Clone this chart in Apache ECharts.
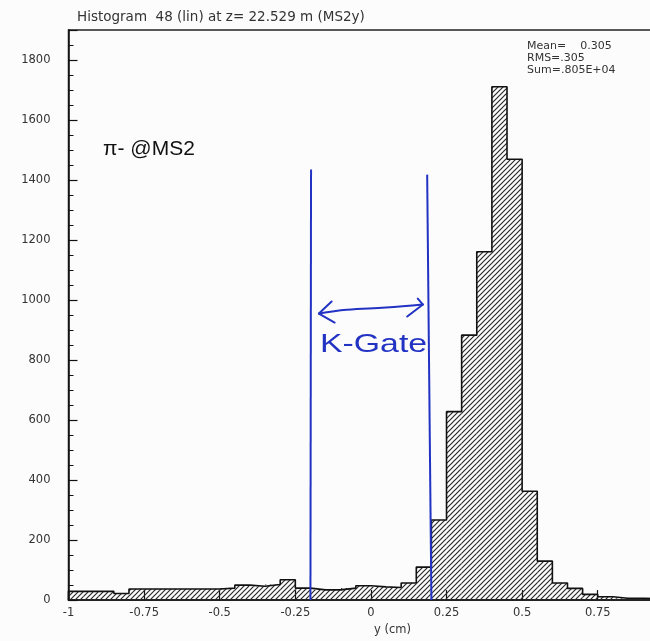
<!DOCTYPE html>
<html>
<head>
<meta charset="utf-8">
<script src="https://cdn.jsdelivr.net/npm/echarts@6/dist/echarts.min.js"></script>
<style>
  html, body { margin: 0; padding: 0; background: #fcfcfc; overflow: hidden; width: 650px; height: 641px; }
  #chart { width: 680px; height: 641px; }
</style>
</head>
<body>
<div id="chart"></div>
<script>
// Histogram 48: y distribution at MS2, 40 bins of 0.05 cm from -1 to 1
const binStart = -1;
const binWidth = 0.05;
const counts = [
  29, 29, 29, 22, 37, 37, 37, 37, 37, 37,
  40, 50, 46, 52, 68, 40, 34, 34, 40, 48,
  44, 42, 57, 110, 267, 628, 883, 1161, 1711, 1469,
  363, 130, 57, 39, 19, 11, 6, 6, 5, 5
];
const titleText = 'Histogram  48 (lin) at z= 22.529 m (MS2y)';
const statLines = ['Mean=    0.305', 'RMS=.305', 'Sum=.805E+04'];
const gateEdges = [-0.2, 0.2];

// diagonal hatching tile
function hatchTile() {
  const s = 5;
  const c = document.createElement('canvas');
  c.width = s; c.height = s;
  const g = c.getContext('2d');
  g.strokeStyle = '#2a2a2a';
  g.lineWidth = 1.2;
  g.beginPath();
  g.moveTo(0, s); g.lineTo(s, 0);
  g.moveTo(-1, 1); g.lineTo(1, -1);
  g.moveTo(s - 1, s + 1); g.lineTo(s + 1, s - 1);
  g.stroke();
  return c;
}
const hatch = { image: hatchTile(), repeat: 'repeat' };

// bins as [lo, hi, count]
const bins = counts.map((v, k) => [binStart + k * binWidth, binStart + (k + 1) * binWidth, v]);

// outline of the histogram as a step contour
const contour = [[binStart, 0]];
bins.forEach(b => { contour.push([b[0], b[2]]); contour.push([b[1], b[2]]); });
contour.push([bins[bins.length - 1][1], 0]);

const blue = '#2233c4';
const font = 'DejaVu Sans';

const chart = echarts.init(document.getElementById('chart'), null, { renderer: 'canvas' });
chart.setOption({
  animation: false,
  backgroundColor: '#fcfcfc',
  title: {
    text: titleText,
    left: 72, top: 5,
    textStyle: { fontFamily: font, fontSize: 13.5, fontWeight: 'normal', color: '#333' }
  },
  grid: {
    left: 68.5, right: 5.5, top: 30, bottom: 40,
    show: true, borderColor: '#222', borderWidth: 1.5, backgroundColor: 'transparent'
  },
  xAxis: {
    type: 'value', min: -1, max: 1, interval: 0.25,
    name: 'y (cm)', nameLocation: 'middle', nameGap: 20,
    nameTextStyle: { fontFamily: font, fontSize: 11.5, color: '#333', padding: [0, 0, 0, 43] },
    axisLine: { onZero: false, lineStyle: { color: '#111', width: 1.5 } },
    axisTick: { inside: true, length: 10, lineStyle: { color: '#111', width: 1.2 } },
    axisLabel: { fontFamily: font, fontSize: 11.5, color: '#333', margin: 7, formatter: v => String(v) },
    splitLine: { show: false }
  },
  yAxis: {
    type: 'value', min: 0, max: 1900, interval: 200,
    axisLine: { show: true, onZero: false, lineStyle: { color: '#111', width: 1.5 } },
    axisTick: { inside: true, length: 9, lineStyle: { color: '#111', width: 1.2 } },
    minorTick: { show: true, splitNumber: 4, length: 5, lineStyle: { color: '#111', width: 1 } },
    axisLabel: { fontFamily: font, fontSize: 11.5, color: '#333', margin: 18, showMaxLabel: false, formatter: v => String(v) },
    splitLine: { show: false }
  },
  graphic: [
    { type: 'text', left: 103, top: 139,
      style: { text: 'π- @MS2', fontFamily: 'Liberation Sans', fontSize: 21, fill: '#111' } },
    { type: 'text', left: 320, top: 332, scaleX: 1.3,
      style: { text: 'K-Gate', fontFamily: 'Liberation Sans', fontSize: 26, fill: blue } },
    { type: 'text', left: 527, top: 40,
      style: { text: statLines.join('\n'), fontFamily: font, fontSize: 11, lineHeight: 12, fill: '#333' } }
  ],
  series: [
    {
      type: 'custom',
      name: 'hatch',
      data: bins,
      renderItem: function (params, api) {
        const p0 = api.coord([api.value(0), api.value(2)]);
        const p1 = api.coord([api.value(1), 0]);
        return {
          type: 'rect',
          shape: { x: p0[0], y: p0[1], width: p1[0] - p0[0], height: p1[1] - p0[1] },
          style: { fill: hatch, stroke: null }
        };
      },
      z: 2
    },
    {
      type: 'line',
      name: 'contour',
      data: contour,
      showSymbol: false,
      lineStyle: { color: '#111', width: 1.6 },
      z: 3
    },
    {
      type: 'line', name: 'gateLow',
      data: [[gateEdges[0], 0], [gateEdges[0] + 0.002, 1435]],
      showSymbol: false, lineStyle: { color: blue, width: 2 }, z: 4
    },
    {
      type: 'line', name: 'gateHigh',
      data: [[gateEdges[1], 0], [gateEdges[1] - 0.014, 1418]],
      showSymbol: false, lineStyle: { color: blue, width: 2 }, z: 4
    },
    {
      type: 'custom',
      name: 'gateArrow',
      data: [0],
      renderItem: function (params, api) {
        const pt = (x, y) => api.coord([x, y]);
        const lineStyle = { stroke: blue, lineWidth: 2, fill: null, lineCap: 'round', lineJoin: 'round' };
        return {
          type: 'group',
          children: [
            { type: 'polyline', shape: { points: [pt(-0.172, 955), pt(-0.08, 968), pt(0.05, 975), pt(0.172, 985)], smooth: 0.4 }, style: lineStyle },
            { type: 'polyline', shape: { points: [pt(-0.13, 995), pt(-0.172, 955), pt(-0.12, 925)] }, style: lineStyle },
            { type: 'polyline', shape: { points: [pt(0.155, 1005), pt(0.172, 985), pt(0.12, 945)] }, style: lineStyle }
          ]
        };
      },
      z: 5
    }
  ]
});
</script>
</body>
</html>
